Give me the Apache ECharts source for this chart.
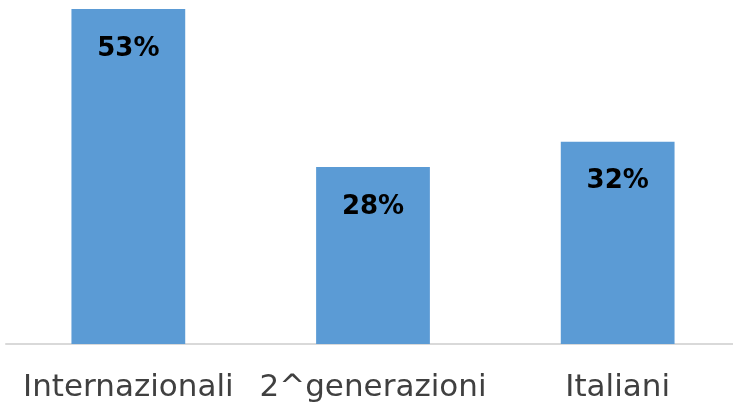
<!DOCTYPE html>
<html>
<head>
<meta charset="utf-8">
<script src="https://cdn.jsdelivr.net/npm/echarts@6/dist/echarts.min.js"></script>
<style>
html,body{margin:0;padding:0;background:#fff;}
#chart{width:733px;height:407px;}
</style>
</head>
<body>
<div id="chart"></div>
<script>
var categories = ['Internazionali', '2^generazioni', 'Italiani'];
var percentuali = [53, 28, 32];

var myChart = echarts.init(document.getElementById('chart'));
var option = {
    animation: false,
    grid: {
        top: 9,
        bottom: 63,
        left: 6,
        width: 734,
        outerBoundsMode: 'none'
    },
    xAxis: {
        type: 'category',
        data: categories,
        axisTick: { show: false },
        axisLine: { lineStyle: { color: '#d9d9d9', width: 2 } },
        axisLabel: {
            color: '#404040',
            fontSize: 31,
            fontFamily: 'DejaVu Sans',
            margin: 28,
            interval: 0,
            hideOverlap: false
        }
    },
    yAxis: {
        type: 'value',
        min: 0,
        max: 53,
        show: false,
        splitLine: { show: false }
    },
    series: [{
        type: 'bar',
        data: percentuali,
        barWidth: '46.5%',
        itemStyle: { color: '#5b9bd5' },
        label: {
            show: true,
            position: 'insideTop',
            distance: 27,
            formatter: '{c}%',
            color: '#000',
            fontSize: 26,
            fontWeight: 'bold',
            fontFamily: 'DejaVu Sans'
        }
    }]
};
myChart.setOption(option);
</script>
</body>
</html>
